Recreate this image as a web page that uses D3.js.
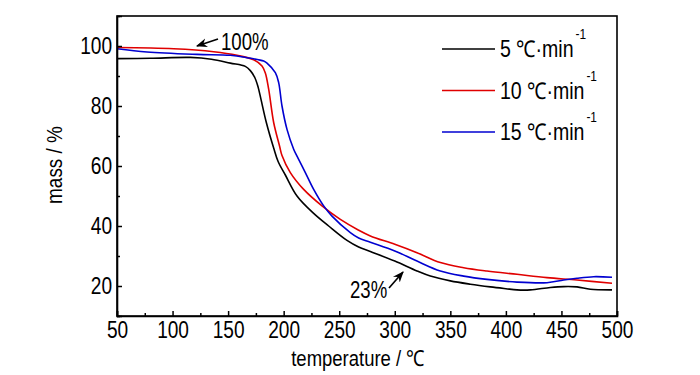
<!DOCTYPE html>
<html>
<head>
<meta charset="utf-8">
<script src="https://cdn.jsdelivr.net/npm/d3@7"></script>
<style>
  body { margin: 0; background: #fff; }
  text { font-family: "Liberation Sans", Arial, sans-serif; fill: #000; }
</style>
</head>
<body>
<div id="chart"></div>
<script>
// temperature (℃) and mass (%)
const temp5 = [50, 80, 116, 135, 152, 165.5, 170, 174, 177, 179.6, 184.4, 191, 195, 201.5, 212, 227, 240.5, 257, 267.5, 278, 300, 320, 332, 350, 368, 386, 400, 410, 422, 440, 452, 464, 476, 495.5];
const mass5 = [95.8, 95.9, 96.2, 95.6, 94.3, 93.2, 91.8, 89.5, 86.3, 82.2, 74.5, 66, 61.5, 57, 50, 44.2, 40, 35.2, 33, 31.5, 28.3, 25, 23.3, 21.7, 20.6, 19.7, 19.1, 18.7, 18.7, 19.5, 19.8, 19.7, 18.9, 18.7];

const temp10 = [50, 101, 137, 158, 173, 180.5, 183.5, 186.5, 191, 196.4, 198.5, 206, 218, 234.5, 251, 267.5, 278, 300, 320, 341, 362, 383, 410, 437, 464, 495.5];
const mass10 = [99.5, 99.1, 98.1, 96.9, 95.4, 93.3, 91, 85.6, 74.5, 66.5, 63.5, 57.8, 52.2, 46.7, 42.2, 38.6, 36.7, 33.9, 31.1, 27.8, 26.1, 25, 23.9, 22.8, 22, 20.9];

const temp15 = [50, 77, 122, 152, 167, 182, 185, 192.5, 195.5, 198.5, 203, 209, 212, 219.5, 227, 236, 243.5, 260, 267.5, 278, 300, 320, 341, 362, 383, 410, 437, 452, 464, 479, 495.5];
const mass15 = [99.1, 98, 97.2, 96.9, 96.1, 95, 94.3, 91.1, 87.8, 80, 72.2, 65.6, 63.3, 57.8, 52.2, 46.7, 43.3, 37.8, 36, 34.6, 31.7, 28.3, 25, 23.3, 22.2, 21.3, 21.1, 22, 22.6, 23.1, 22.9];

const seriesNames = ['5 ℃·min', '10 ℃·min', '15 ℃·min'];
const seriesColors = ['#000000', '#e00000', '#0000d0'];
const xTicks = [50, 100, 150, 200, 250, 300, 350, 400, 450, 500];
const yTicks = [20, 40, 60, 80, 100];

const series = [
    {name: seriesNames[0], color: seriesColors[0], x: temp5, y: mass5},
    {name: seriesNames[1], color: seriesColors[1], x: temp10, y: mass10},
    {name: seriesNames[2], color: seriesColors[2], x: temp15, y: mass15}
];

const width = 700;
const height = 375;
const margin = {top: 16, right: 83, bottom: 59, left: 117};

const svg = d3.select('#chart')
    .append('svg')
        .attr('width', width)
        .attr('height', height);

// the original font is a narrow sans, so squeeze a text horizontally
function squeeze(sel, factor) {
    sel.each(function() {
        const len = this.getComputedTextLength();
        d3.select(this)
            .attr('textLength', len * factor)
            .attr('lengthAdjust', 'spacingAndGlyphs');
    });
}

const x = d3.scaleLinear()
    .domain([50, 500])
    .range([margin.left, width - margin.right]);

const y = d3.scaleLinear()
    .domain([10, 110])
    .range([height - margin.bottom, margin.top]);

// lines
const line = d3.line()
    .x(d => x(d[0]))
    .y(d => y(d[1]))
    .curve(d3.curveCatmullRom.alpha(0.5));

svg.append('g')
    .selectAll('path')
    .data(series)
    .join('path')
        .attr('fill', 'none')
        .attr('stroke', d => d.color)
        .attr('stroke-width', 1.6)
        .attr('d', d => line(d.x.map((t, i) => [t, d.y[i]])));

// frame
svg.append('rect')
    .attr('x', margin.left)
    .attr('y', margin.top)
    .attr('width', width - margin.left - margin.right)
    .attr('height', height - margin.top - margin.bottom)
    .attr('fill', 'none')
    .attr('stroke', '#000')
    .attr('stroke-width', 1.6);

// x axis, ticks pointing inwards
svg.append('g')
    .attr('transform', `translate(0, ${height - margin.bottom})`)
    .call(d3.axisBottom(x).tickValues(xTicks).tickSize(-5).tickPadding(6).tickFormat(d3.format('d')));
svg.append('g')
    .attr('transform', `translate(0, ${height - margin.bottom})`)
    .call(d3.axisBottom(x).tickValues(d3.range(75, 500, 50)).tickSize(-3).tickFormat(''))
    .call(g => g.select('.domain').remove());

// y axis
svg.append('g')
    .attr('transform', `translate(${margin.left}, 0)`)
    .call(d3.axisLeft(y).tickValues(yTicks).tickSize(-5).tickPadding(5));
svg.append('g')
    .attr('transform', `translate(${margin.left}, 0)`)
    .call(d3.axisLeft(y).tickValues([10, 30, 50, 70, 90, 110]).tickSize(-3).tickFormat(''))
    .call(g => g.select('.domain').remove());

svg.selectAll('.tick line').attr('stroke-width', 1.5);
svg.selectAll('.domain').attr('stroke-width', 1.6);
svg.selectAll('.tick text').style('font-size', '23px').call(squeeze, 0.83);

// axis titles
svg.append('text')
    .attr('x', 358)
    .attr('y', 366)
    .attr('text-anchor', 'middle')
    .style('font-size', '22px')
    .text('temperature / ℃')
    .call(squeeze, 0.84);

svg.append('text')
    .attr('transform', 'translate(62, 165) rotate(-90)')
    .attr('text-anchor', 'middle')
    .style('font-size', '22px')
    .text('mass / %')
    .call(squeeze, 0.86);

// legend, text narrowed with a scale so its box stays true
const legend = svg.append('g');
series.forEach((s, i) => {
    const ly = 49 + i * 41.5;
    legend.append('line')
        .attr('x1', 442).attr('x2', 495)
        .attr('y1', ly).attr('y2', ly)
        .attr('stroke', s.color)
        .attr('stroke-width', 1.6);
    const t = legend.append('text')
        .attr('transform', `translate(500, ${ly + 8}) scale(0.85, 1)`)
        .style('font-size', '23px')
        .text(s.name);
    const end = 500 + t.node().getComputedTextLength() * 0.85;
    legend.append('text')
        .attr('transform', `translate(${end + 2}, ${ly - 10}) scale(0.85, 1)`)
        .style('font-size', '14px')
        .text('-1');
});

// annotations
svg.append('defs').append('marker')
    .attr('id', 'arrow')
    .attr('viewBox', '0 0 10 10')
    .attr('refX', 9).attr('refY', 5)
    .attr('markerWidth', 7).attr('markerHeight', 7)
    .attr('orient', 'auto')
    .append('path')
        .attr('d', 'M0,1 L10,5 L0,9 L3,5 Z')
        .attr('fill', '#000');

svg.append('line')
    .attr('x1', 218).attr('y1', 39)
    .attr('x2', 197).attr('y2', 46)
    .attr('stroke', '#000').attr('stroke-width', 1.6)
    .attr('marker-end', 'url(#arrow)');
svg.append('text')
    .attr('x', 221).attr('y', 50)
    .style('font-size', '23px')
    .text('100%')
    .call(squeeze, 0.81);

svg.append('line')
    .attr('x1', 389).attr('y1', 288)
    .attr('x2', 403).attr('y2', 272)
    .attr('stroke', '#000').attr('stroke-width', 1.6)
    .attr('marker-end', 'url(#arrow)');
svg.append('text')
    .attr('x', 350).attr('y', 298)
    .style('font-size', '23px')
    .text('23%')
    .call(squeeze, 0.81);
</script>
</body>
</html>
